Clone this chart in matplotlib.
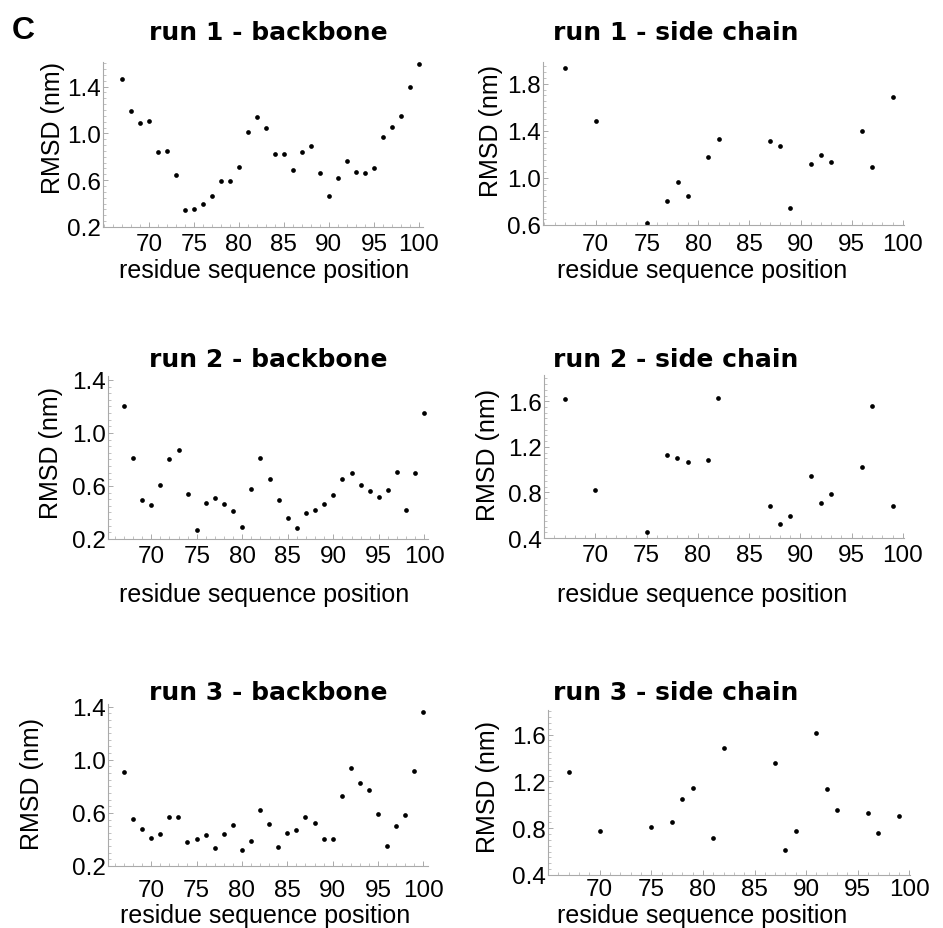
import numpy as np
import matplotlib
matplotlib.use("Agg")
import matplotlib.pyplot as plt
from matplotlib.ticker import MultipleLocator

# ---- data ----
bb_res = list(range(67, 101))
sc_res = [67, 70, 75, 77, 78, 79, 81, 82, 87, 88, 89, 91, 92, 93, 96, 97, 99]

run1_bb = [1.466, 1.194, 1.089, 1.109, 0.840, 0.849, 0.643, 0.346, 0.357, 0.400,
           0.463, 0.589, 0.597, 0.714, 1.011, 1.137, 1.049, 0.826, 0.820, 0.691,
           0.843, 0.894, 0.660, 0.469, 0.620, 0.760, 0.669, 0.663, 0.703, 0.969,
           1.051, 1.151, 1.400, 1.589]
run2_bb = [1.201, 0.811, 0.497, 0.454, 0.608, 0.806, 0.874, 0.540, 0.265, 0.469,
           0.509, 0.467, 0.409, 0.293, 0.575, 0.811, 0.653, 0.492, 0.358, 0.286,
           0.399, 0.419, 0.462, 0.535, 0.655, 0.696, 0.608, 0.562, 0.519, 0.567,
           0.706, 0.421, 0.696, 1.153]
run3_bb = [0.911, 0.554, 0.476, 0.413, 0.443, 0.572, 0.572, 0.382, 0.403, 0.430,
           0.334, 0.438, 0.509, 0.319, 0.392, 0.620, 0.519, 0.344, 0.451, 0.471,
           0.567, 0.527, 0.405, 0.405, 0.724, 0.939, 0.823, 0.770, 0.590, 0.352,
           0.504, 0.582, 0.914, 1.359]

run1_sc = [1.936, 1.479, 0.614, 0.801, 0.969, 0.850, 1.179, 1.329, 1.309, 1.272,
           0.745, 1.119, 1.193, 1.136, 1.394, 1.091, 1.687]
run2_sc = [1.620, 0.820, 0.453, 1.127, 1.098, 1.066, 1.083, 1.626, 0.683, 0.526,
           0.593, 0.940, 0.707, 0.785, 1.022, 1.559, 0.683]
run3_sc = [1.276, 0.775, 0.812, 0.849, 1.051, 1.145, 0.713, 1.483, 1.358, 0.613,
           0.775, 1.617, 1.139, 0.957, 0.929, 0.761, 0.906]

titles = ["run 1 - backbone", "run 1 - side chain",
          "run 2 - backbone", "run 2 - side chain",
          "run 3 - backbone", "run 3 - side chain"]

W, H = 943, 929
fig = plt.figure(figsize=(W / 100, H / 100), dpi=100)

def fx(x):
    return x / W

def fy(y):
    return 1 - y / H

# panel layout in pixels: left, right, top, bottom, xlim, ylim, first y tick, xtick pad
panels = [
    (bb_res, run1_bb, (103, 423, 63, 228), (64.9, 100.45), (0.2, 1.61), 0.2, 4.5),
    (sc_res, run1_sc, (543, 904, 63, 226), (64.87, 100.1), (0.6, 1.984), 0.6, 5.5),
    (bb_res, run2_bb, (108, 428, 377, 540), (65.25, 100.4), (0.2, 1.43), 0.2, 4.5),
    (sc_res, run2_sc, (544, 904, 376, 539), (65.0, 100.1), (0.4, 1.83), 0.4, 4),
    (bb_res, run3_bb, (108, 428, 705, 867), (65.25, 100.5), (0.2, 1.42), 0.2, 9.5),
    (sc_res, run3_sc, (548, 910, 711, 876), (65.0, 100.06), (0.4, 1.81), 0.4, 2.5),
]
title_pos = [(268, 40), (676, 40), (268, 367), (676, 367), (268, 700), (676, 700)]
ylab_pos = [(53, 128), (491, 131), (51, 453), (488, 455), (32, 784), (488, 787)]
xlab_pos = [(264, 278), (702, 278), (264, 602), (702, 602), (265, 923), (702, 923)]

axis_gray = "#aaaaaa"
sans = "Liberation Sans"

for i, (xs, ys, box, xl, yl, y0, xpad) in enumerate(panels):
    l, r, t, b = box
    ax = fig.add_axes([fx(l), fy(b), (r - l) / W, (b - t) / H])
    ax.plot(xs, ys, "o", color="black", ms=3.4, mec="none")
    ax.set_xlim(*xl)
    ax.set_ylim(*yl)
    ax.set_xticks([70, 75, 80, 85, 90, 95, 100])
    ax.xaxis.set_minor_locator(MultipleLocator(1))
    yt = np.arange(y0, yl[1] + 0.001, 0.4)
    ax.set_yticks(yt)
    ax.set_yticklabels(["%.1f" % v for v in yt])
    ax.yaxis.set_minor_locator(MultipleLocator(0.05))
    for s in ["top", "right"]:
        ax.spines[s].set_visible(False)
    for s in ["left", "bottom"]:
        ax.spines[s].set_color(axis_gray)
        ax.spines[s].set_linewidth(0.8)
    ax.tick_params(which="major", direction="in", length=3.5, width=0.7,
                   color=axis_gray, labelsize=17.5, labelcolor="black")
    ax.tick_params(which="minor", direction="in", length=2, width=0.5,
                   color=axis_gray)
    ax.tick_params(axis="x", which="major", pad=xpad)
    ax.tick_params(axis="y", which="major", pad=1.5)
    for lab in ax.get_xticklabels() + ax.get_yticklabels():
        lab.set_fontfamily(sans)
    ax.patch.set_alpha(0)

    tx, ty = title_pos[i]
    fig.text(fx(tx), fy(ty), titles[i], ha="center", va="baseline",
             fontsize=18, fontweight="bold", family="DejaVu Sans")
    lx, ly = ylab_pos[i]
    fig.text(fx(lx), fy(ly), "RMSD (nm)", ha="center", va="center",
             rotation=90, fontsize=18, family=sans)
    xx, xy = xlab_pos[i]
    fig.text(fx(xx), fy(xy), "residue sequence position", ha="center",
             va="baseline", fontsize=18, family=sans)

fig.text(fx(12), fy(39), "C", ha="left", va="baseline", fontsize=23,
         fontweight="bold", family=sans)

fig.savefig("out.png", dpi=100)
